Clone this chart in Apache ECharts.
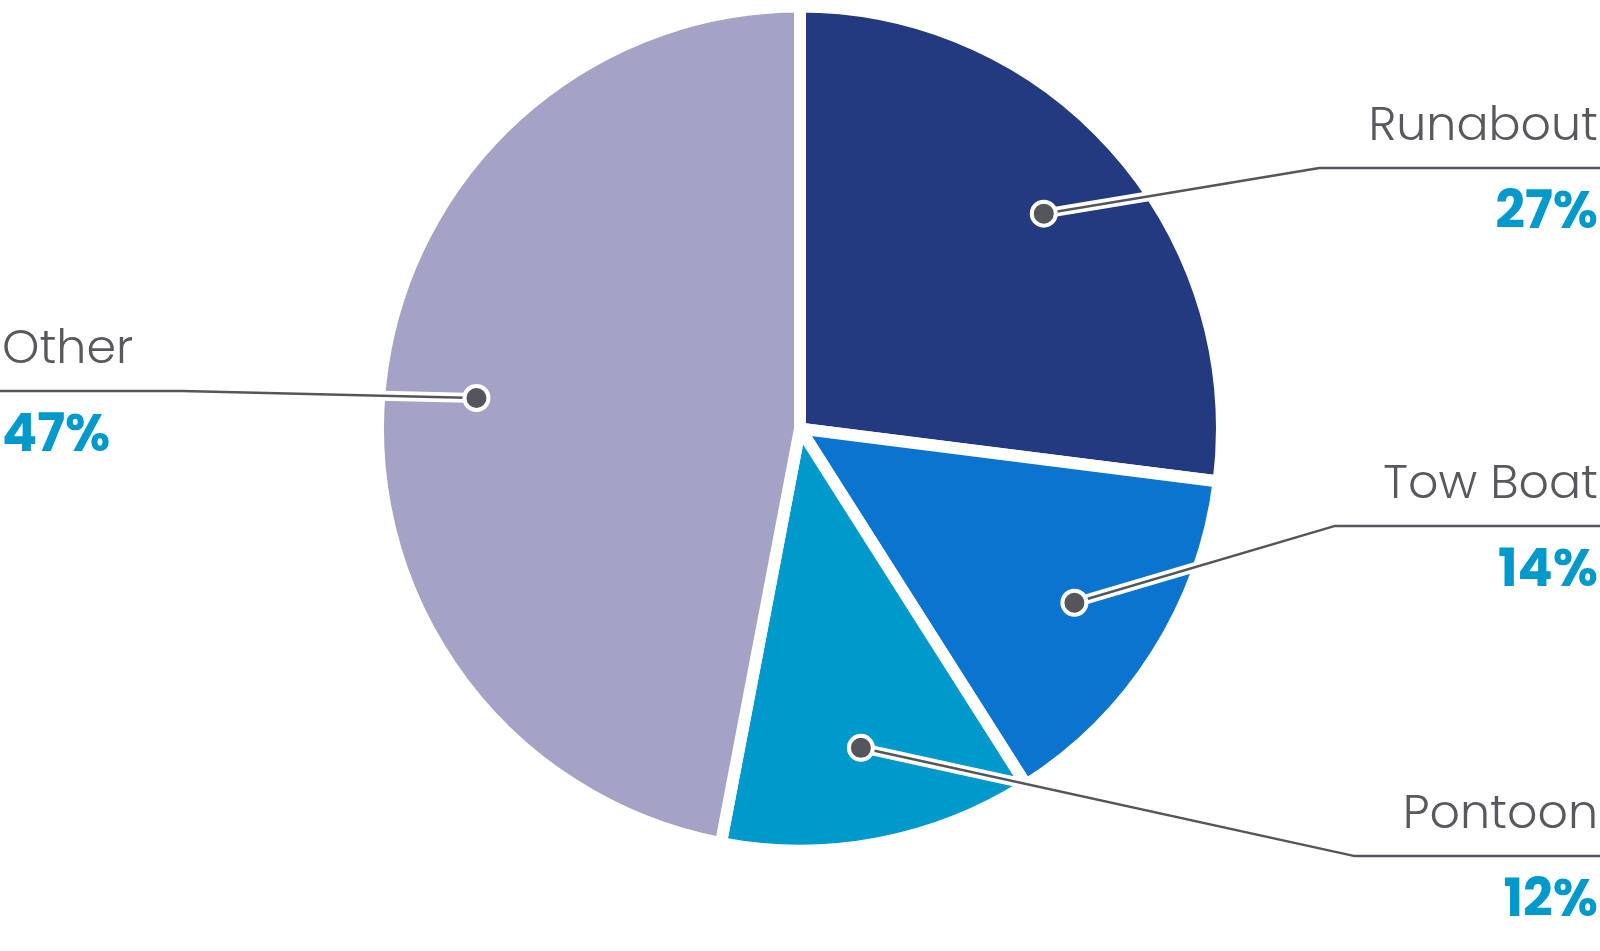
<!DOCTYPE html>
<html>
<head>
<meta charset="utf-8">
<script src="https://cdn.jsdelivr.net/npm/echarts@6/dist/echarts.min.js"></script>
<style>
html,body{margin:0;padding:0;background:#fff;}
#chart{width:1600px;height:951px;}
</style>
</head>
<body>
<div id="chart"></div>
<script>
// ---- data ----
var categories = ['Runabout', 'Tow Boat', 'Pontoon', 'Other'];
var shares = [27, 14, 12, 47];
var sliceColors = ['#243a80', '#0a74cf', '#0099cc', '#a5a3c5'];
// per-slice leader length (style)
var leaderLength = [69, -143, 110, 75];

var CENTER = [800, 428.6];
var PIE_R = 422;
var DOT_R = 325;
var KINK = 49;
var LINE_COLOR = '#55565c';

var chart = echarts.init(document.getElementById('chart'), null, {renderer: 'canvas'});

var total = shares.reduce(function (a, b) { return a + b; }, 0);
var cum = 0;
var dotData = shares.map(function (v) {
  var mid = cum + v / 2;
  cum += v;
  return [1, mid / total * 100];
});

function pieData(withLabels) {
  return categories.map(function (name, i) {
    var d = { name: name, value: shares[i], itemStyle: { color: sliceColors[i] } };
    if (withLabels) {
      d.itemStyle = { color: 'rgba(0,0,0,0)' };
      d.labelLine = { length: leaderLength[i], length2: 0 };
    }
    return d;
  });
}

function layoutFn(p) {
  var pts = p.labelLinePoints;
  if (!pts) return {};
  var W = chart.getWidth();
  var isLeft = p.labelRect.x < W / 2;
  var y = pts[2][1];
  var kx = isLeft ? p.labelRect.x + p.labelRect.width + KINK : p.labelRect.x - KINK;
  return { labelLinePoints: [pts[0], [kx, y], [isLeft ? 0 : W, y]] };
}

function labelSeries(lineColor, lineWidth, textVisible, z) {
  var nameColor = textVisible ? '#58595f' : 'rgba(0,0,0,0)';
  var pctColor = textVisible ? '#0099cc' : 'rgba(0,0,0,0)';
  return {
    type: 'pie',
    center: CENTER,
    radius: DOT_R,
    startAngle: 90,
    clockwise: true,
    silent: true,
    z: z,
    emphasis: { disabled: true },
    avoidLabelOverlap: false,
    data: pieData(true),
    label: {
      show: true,
      position: 'outside',
      alignTo: 'edge',
      edgeDistance: 2,
      distanceToLabelLine: 0,
      formatter: function (p) { return '{n|' + p.name + '}\n{p|' + p.value + '%}'; },
      rich: {
        n: { fontFamily: "Poppins, 'Open Sans', sans-serif", fontWeight: 300, fontSize: 47.5, lineHeight: 94, color: nameColor },
        p: { fontFamily: "Poppins, 'Open Sans', sans-serif", fontWeight: 700, fontSize: 52, lineHeight: 80, color: pctColor }
      }
    },
    labelLine: {
      show: true,
      smooth: false,
      lineStyle: { color: lineColor, width: lineWidth, cap: 'round', join: 'round' }
    },
    labelLayout: layoutFn
  };
}

var option = {
  backgroundColor: '#ffffff',
  animation: false,
  polar: { center: CENTER, radius: DOT_R },
  angleAxis: { type: 'value', min: 0, max: 100, startAngle: 90, clockwise: true, show: false },
  radiusAxis: { type: 'value', min: 0, max: 1, show: false },
  series: [
    {
      type: 'pie',
      center: CENTER,
      radius: PIE_R,
      startAngle: 90,
      clockwise: true,
      silent: true,
      z: 1,
      emphasis: { disabled: true },
      label: { show: false },
      labelLine: { show: false },
      itemStyle: { borderColor: '#ffffff', borderWidth: 12, borderJoin: 'miter', borderMiterLimit: 20 },
      data: pieData(false)
    },
    labelSeries('#ffffff', 10, false, 2),
    labelSeries(LINE_COLOR, 2.5, true, 3),
    {
      type: 'scatter',
      coordinateSystem: 'polar',
      z: 10,
      silent: true,
      symbol: 'circle',
      symbolSize: 24,
      itemStyle: { color: LINE_COLOR, borderColor: '#ffffff', borderWidth: 4, opacity: 1 },
      data: dotData
    }
  ]
};
chart.setOption(option);
</script>
</body>
</html>
